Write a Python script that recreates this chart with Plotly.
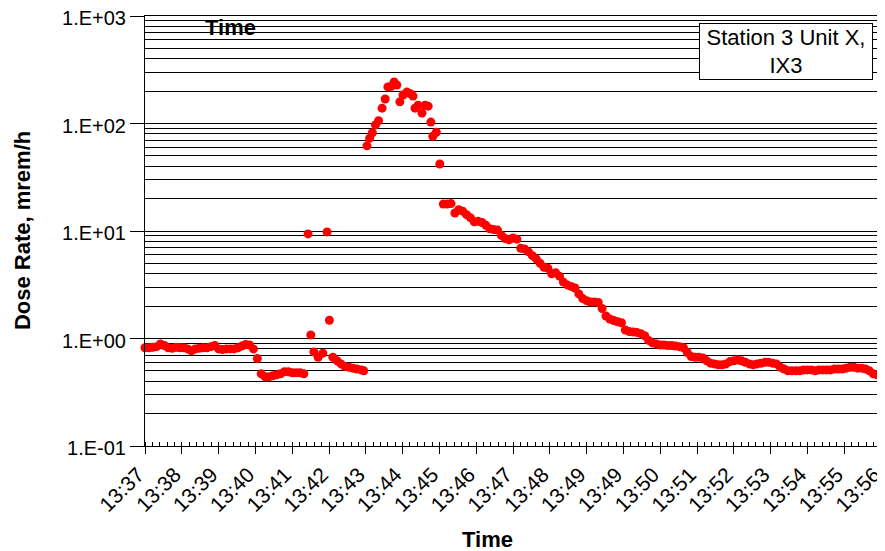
import plotly.graph_objects as go

# elapsed minutes since axis start (13:37:38)
minutes = [
    0.0, 0.1, 0.2, 0.3, 0.4, 0.5, 0.6, 0.7, 0.8, 0.9, 1.0, 1.1, 1.2, 1.3, 1.4, 1.5, 1.6, 1.7, 1.8, 1.9,
    2.0, 2.1, 2.2, 2.3, 2.4, 2.5, 2.6, 2.7, 2.8, 2.9, 3.0, 3.1, 3.2, 3.3, 3.4, 3.5, 3.6, 3.7, 3.8, 3.9,
    4.0, 4.1,
    4.21, 4.28, 4.36, 4.47, 4.59, 4.70, 4.76, 4.85, 4.96, 5.06, 5.16, 5.27, 5.37, 5.47, 5.58, 5.65,
    5.73, 5.80, 5.87, 5.95, 6.03, 6.12, 6.20, 6.27, 6.35, 6.43, 6.50, 6.58, 6.66, 6.76, 6.84, 6.92,
    6.97, 7.05, 7.15, 7.23, 7.31, 7.38, 7.43, 7.52, 7.61,
    7.7, 7.8, 7.9, 8.0, 8.1, 8.2, 8.3, 8.4, 8.5, 8.6, 8.7, 8.8, 8.9, 9.0, 9.1, 9.2, 9.3, 9.4, 9.5, 9.6,
    9.7, 9.8, 9.9, 10.0, 10.1, 10.2, 10.3, 10.4, 10.5, 10.6, 10.7, 10.8, 10.9, 11.0, 11.1, 11.2, 11.3,
    11.4, 11.5, 11.6, 11.7, 11.8, 11.9, 12.0, 12.1, 12.2, 12.3, 12.4, 12.5, 12.6, 12.7, 12.8, 12.9,
    13.0, 13.1, 13.2, 13.3, 13.4, 13.5, 13.6, 13.7, 13.8, 13.9, 14.0, 14.1, 14.2, 14.3, 14.4, 14.5,
    14.6, 14.7, 14.8, 14.9, 15.0, 15.1, 15.2, 15.3, 15.4, 15.5, 15.6, 15.7, 15.8, 15.9, 16.0, 16.1,
    16.2, 16.3, 16.4, 16.5, 16.6, 16.7, 16.8, 16.9, 17.0, 17.1, 17.2, 17.3, 17.4, 17.5, 17.6, 17.7,
    17.8, 17.9, 18.0, 18.1, 18.2, 18.3, 18.4, 18.5, 18.6, 18.7, 18.8, 18.9, 19.0,
]

dose_rate = [
    0.82, 0.82, 0.83, 0.84, 0.89, 0.86, 0.82, 0.81, 0.83, 0.82, 0.82, 0.80, 0.77, 0.80, 0.81, 0.82,
    0.82, 0.84, 0.86, 0.80, 0.79, 0.80, 0.80, 0.80, 0.82, 0.85, 0.88, 0.87, 0.80, 0.65, 0.47, 0.44,
    0.44, 0.45, 0.46, 0.47, 0.49, 0.49, 0.48, 0.48, 0.48, 0.47,
    9.4, 1.08, 0.75, 0.67, 0.73, 9.8, 1.48, 0.67, 0.62, 0.58, 0.55, 0.54, 0.53, 0.52, 0.51, 0.50,
    62, 73, 82, 97, 106, 139, 169, 219, 221, 243, 228, 159, 184, 196, 190, 180,
    139, 148, 125, 148, 145, 103, 76, 83, 42,
    17.8, 17.8, 18.0, 14.7, 15.8, 15.3, 14.2, 13.3, 12.2, 12.3, 12.0, 11.3, 10.5, 10.3, 10.2, 9.1,
    8.5, 8.3, 8.6, 8.4, 6.9, 6.8, 6.4, 5.9, 5.5, 5.0, 4.6, 4.5, 4.0, 4.1, 3.8, 3.35, 3.15, 3.05,
    2.95, 2.6, 2.35, 2.25, 2.18, 2.18, 2.16, 1.9, 1.62, 1.52, 1.47, 1.43, 1.40, 1.20, 1.16, 1.15,
    1.14, 1.11, 1.06, 0.96, 0.91, 0.89, 0.87, 0.87, 0.86, 0.86, 0.85, 0.84, 0.82, 0.74, 0.68, 0.67,
    0.67, 0.66, 0.62, 0.59, 0.58, 0.57, 0.57, 0.58, 0.61, 0.62, 0.63, 0.62, 0.60, 0.58, 0.57, 0.58,
    0.59, 0.60, 0.60, 0.59, 0.58, 0.54, 0.52, 0.50, 0.50, 0.50, 0.50, 0.51, 0.51, 0.51, 0.50, 0.51,
    0.51, 0.51, 0.51, 0.52, 0.52, 0.52, 0.53, 0.54, 0.54, 0.53, 0.53, 0.52, 0.50, 0.47, 0.46, 0.47,
]

tick_labels = ["13:37", "13:38", "13:39", "13:40", "13:41", "13:42", "13:43", "13:44", "13:45",
               "13:46", "13:47", "13:48", "13:49", "13:49", "13:50", "13:51", "13:52", "13:53",
               "13:54", "13:55", "13:56"]
tick_step = 0.95  # minutes between labelled ticks (57 s)

y_major = [0.1, 1, 10, 100, 1000]
y_major_text = ["1.E-01", "1.E+00", "1.E+01", "1.E+02", "1.E+03"]
y_minor = [m * d for d in (0.1, 1, 10, 100) for m in range(2, 10)]

FONT = "Arial, Liberation Sans, sans-serif"

fig = go.Figure()
fig.add_trace(go.Scatter(
    x=minutes, y=dose_rate, mode="markers",
    marker=dict(color="#FF0000", size=9, line=dict(width=0)),
    cliponaxis=False, showlegend=False,
))

# the page body adds an 8 px margin, so the figure is sized to fit the window
fig.update_layout(
    width=877, height=543,
    margin=dict(l=137, r=4, t=8, b=105),
    paper_bgcolor="white", plot_bgcolor="white",
    font=dict(family=FONT, size=21, color="black"),
)

fig.update_xaxes(
    range=[0, 19.0001],
    automargin=False,
    tickmode="array",
    tickvals=[round(i * tick_step, 4) for i in range(len(tick_labels))],
    ticktext=tick_labels,
    tickangle=-45,
    ticklabeloverflow="allow",
    ticklabelshift=-7,
    ticks="outside", ticklen=7, tickcolor="black", tickwidth=1,
    showline=True, linecolor="black", linewidth=1, mirror=True,
    showgrid=False, zeroline=False,
    minor=dict(tick0=0, dtick=tick_step / 5, ticks="inside", ticklen=4,
               tickcolor="black", tickwidth=1, showgrid=False),
    tickfont=dict(size=21),
)

fig.update_yaxes(
    type="log", range=[-1, 3],
    automargin=False,
    tickmode="array", tickvals=y_major, ticktext=y_major_text,
    ticklabeloverflow="allow",
    ticklabelshift=2,
    ticks="outside", ticklen=14, tickcolor="black", tickwidth=1,
    showline=True, linecolor="black", linewidth=1, mirror=True,
    showgrid=True, gridcolor="black", gridwidth=1, zeroline=False,
    minor=dict(tickmode="array", tickvals=y_minor, ticks="",
               showgrid=True, gridcolor="black", gridwidth=1),
    tickfont=dict(size=20),
)

fig.add_annotation(
    xref="paper", yref="paper", x=0.1155, y=0.974,
    xanchor="center", yanchor="middle", showarrow=False,
    text="<b>Time</b>", font=dict(size=22),
)
fig.add_annotation(
    xref="paper", yref="paper", x=0.466, y=-0.2186,
    xanchor="center", yanchor="middle", showarrow=False,
    text="<b>Time</b>", font=dict(size=22),
)
fig.add_annotation(
    xref="paper", yref="paper", x=-0.167, y=0.5,
    xanchor="center", yanchor="middle", showarrow=False, textangle=-90,
    text="<b>Dose Rate, mrem/h</b>", font=dict(size=22),
)
fig.add_annotation(
    xref="paper", yref="paper", x=0.7527, y=0.9837,
    xanchor="left", yanchor="top", showarrow=False,
    text="Station 3 Unit X,<br>IX3", font=dict(size=22),
    bgcolor="white", bordercolor="black", borderwidth=1, borderpad=1,
    width=170, height=53, align="center",
)

fig.write_html("out.html")
